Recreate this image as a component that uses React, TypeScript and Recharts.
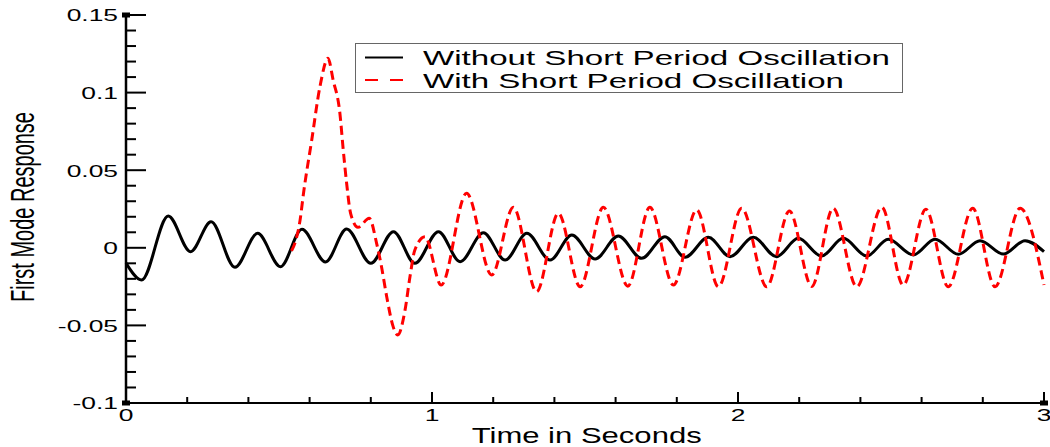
import React from 'react';
import { LineChart, Line, XAxis, YAxis } from 'recharts';

// "Without Short Period Oscillation" - read at the peaks/troughs
const blackT = [
  0, 0.051, 0.138, 0.211, 0.278, 0.356, 0.43, 0.505, 0.575, 0.652, 0.721, 0.8, 0.874, 0.944,
  1.021, 1.092, 1.168, 1.239, 1.31, 1.386, 1.457, 1.533, 1.609, 1.685, 1.761, 1.827, 1.903,
  1.974, 2.05, 2.126, 2.197, 2.273, 2.344, 2.421, 2.491, 2.573, 2.644, 2.72, 2.791, 2.867,
  2.938, 3.0,
];
const blackY = [
  -0.0098, -0.0207, 0.0205, -0.0025, 0.0168, -0.0126, 0.0093, -0.0122, 0.0119, -0.0091, 0.0121,
  -0.01, 0.0104, -0.01, 0.0104, -0.009, 0.0097, -0.0079, 0.0093, -0.0079, 0.0082, -0.0072,
  0.0076, -0.0068, 0.0072, -0.0061, 0.0068, -0.0057, 0.0068, -0.0057, 0.0061, -0.0053, 0.0061,
  -0.0053, 0.0055, -0.0046, 0.0055, -0.0042, 0.0046, -0.004, 0.0046, -0.0025,
];

// "With Short Period Oscillation" - starts where it leaves the black curve
const redT = [
  0.541, 0.552, 0.569, 0.58, 0.607, 0.634, 0.66, 0.677, 0.699, 0.71, 0.721, 0.734, 0.758, 0.795,
  0.819, 0.835, 0.852, 0.873, 0.888, 0.912, 0.928, 0.944, 0.977, 1.03, 1.113, 1.195, 1.266,
  1.342, 1.413, 1.484, 1.56, 1.64, 1.712, 1.789, 1.865, 1.936, 2.012, 2.094, 2.168, 2.241,
  2.311, 2.388, 2.47, 2.54, 2.614, 2.687, 2.767, 2.84, 2.922, 3.0,
];
const redY = [
  -0.002, 0.003, 0.018, 0.035, 0.0695, 0.104, 0.1221, 0.108, 0.0867, 0.063, 0.0416, 0.0222,
  0.0132, 0.019, 0.0029, -0.0122, -0.0315, -0.0508, -0.0562, -0.04, -0.0186, -0.0014, 0.0072,
  -0.024, 0.0351, -0.0175, 0.0261, -0.0283, 0.0222, -0.0251, 0.0261, -0.0247, 0.0261, -0.024,
  0.0244, -0.0251, 0.0255, -0.0251, 0.0237, -0.0249, 0.0255, -0.0251, 0.0261, -0.024, 0.0248,
  -0.0251, 0.0255, -0.0251, 0.0255, -0.024,
];

const xTicks = [0, 0.2, 0.4, 0.6, 0.8, 1, 1.2, 1.4, 1.6, 1.8, 2, 2.2, 2.4, 2.6, 2.8, 3];
const xLabels = ['0', '1', '2', '3'];
const yTicks = [
  -0.1, -0.09, -0.08, -0.07, -0.06, -0.05, -0.04, -0.03, -0.02, -0.01, 0, 0.01, 0.02, 0.03,
  0.04, 0.05, 0.06, 0.07, 0.08, 0.09, 0.1, 0.11, 0.12, 0.13, 0.14, 0.15,
];
const yLabels = ['-0.1', '-0.05', '0', '0.05', '0.1', '0.15'];

const seriesNames = ['Without Short Period Oscillation', 'With Short Period Oscillation'];

const blackData = blackT.map((t, i) => ({ t, y: blackY[i] }));
const redData = redT.map((t, i) => ({ t, y: redY[i] }));

const FONT = '"Liberation Sans", Arial, Helvetica, sans-serif';
const STRETCH = 1.65;

const findLabel = (labels: string[], v: number) =>
  labels.find((l) => Math.abs(parseFloat(l) - v) < 1e-9) ?? null;

function YTick(props: any) {
  const { x, y, payload } = props;
  const label = findLabel(yLabels, payload.value);
  const isEnd = Math.abs(payload.value - 0.15) < 1e-9 || Math.abs(payload.value + 0.1) < 1e-9;
  return (
    <g>
      <line x1={x} x2={x + (label ? 20 : 10)} y1={y} y2={y} stroke="#000" strokeWidth={2} />
      {isEnd && <rect x={x - 4} y={y - 2.5} width={8} height={5} fill="#000" />}
      {label && (
        <text
          transform={`translate(${x - 8},${y + 1}) scale(${STRETCH},1)`}
          textAnchor="end"
          dominantBaseline="central"
          fontSize={16}
          fontFamily={FONT}
          fill="#000"
        >
          {label}
        </text>
      )}
    </g>
  );
}

function XTick(props: any) {
  const { x, y, payload } = props;
  const label = findLabel(xLabels, payload.value);
  const isEnd = Math.abs(payload.value - 3) < 1e-9;
  return (
    <g>
      <line x1={x} x2={x} y1={y} y2={y - (label ? 11 : 6)} stroke="#000" strokeWidth={2} />
      {isEnd && <rect x={x - 4} y={y - 2.5} width={8} height={5} fill="#000" />}
      {label && (
        <text
          transform={`translate(${x},${y + 13}) scale(${STRETCH},1)`}
          textAnchor="middle"
          dominantBaseline="central"
          fontSize={16}
          fontFamily={FONT}
          fill="#000"
        >
          {label}
        </text>
      )}
    </g>
  );
}

export default function App() {
  return (
    <div style={{ position: 'absolute', left: 0, top: 0, width: 1050, height: 447, background: '#fff' }}>
      <LineChart width={1050} height={447} margin={{ top: 15, right: 6, bottom: 43, left: 125 }}>
        <XAxis
          type="number"
          dataKey="t"
          domain={[0, 3]}
          ticks={xTicks}
          interval={0}
          height={1}
          tickSize={0}
          tickMargin={0}
          tick={<XTick />}
          tickLine={false}
          axisLine={{ stroke: '#000', strokeWidth: 2 }}
        />
        <YAxis
          type="number"
          dataKey="y"
          domain={[-0.1, 0.15]}
          ticks={yTicks}
          interval={0}
          width={1}
          tickSize={0}
          tickMargin={0}
          tick={<YTick />}
          tickLine={false}
          axisLine={{ stroke: '#000', strokeWidth: 2.5 }}
        />
        <Line
          data={blackData}
          dataKey="y"
          type="monotone"
          stroke="#000"
          strokeWidth={3}
          dot={false}
          isAnimationActive={false}
        />
        <Line
          data={redData}
          dataKey="y"
          type="monotone"
          stroke="#ff0000"
          strokeWidth={3}
          strokeDasharray="9 5"
          dot={false}
          isAnimationActive={false}
        />
      </LineChart>
      <svg
        width={1050}
        height={447}
        style={{ position: 'absolute', left: 0, top: 0, pointerEvents: 'none' }}
      >
        <rect x={355.5} y={43.5} width={547} height={49} fill="#fff" stroke="#666" strokeWidth={1} />
        <line x1={365} x2={403} y1={57.5} y2={57.5} stroke="#000" strokeWidth={2} />
        <text x={423} y={65} fontSize={21} fontFamily={FONT} textLength={467} lengthAdjust="spacingAndGlyphs">
          {seriesNames[0]}
        </text>
        <line x1={365} x2={403} y1={80} y2={80} stroke="#ff0000" strokeWidth={2} strokeDasharray="13 12" />
        <text x={423} y={88.3} fontSize={21} fontFamily={FONT} textLength={421} lengthAdjust="spacingAndGlyphs">
          {seriesNames[1]}
        </text>
        <text
          x={586.7}
          y={443.3}
          textAnchor="middle"
          fontSize={22}
          fontFamily={FONT}
          textLength={230}
          lengthAdjust="spacingAndGlyphs"
        >
          Time in Seconds
        </text>
        <text
          transform={`translate(34,207) scale(${STRETCH},1) rotate(-90)`}
          textAnchor="middle"
          fontSize={20}
          fontFamily={FONT}
        >
          First Mode Response
        </text>
      </svg>
    </div>
  );
}
